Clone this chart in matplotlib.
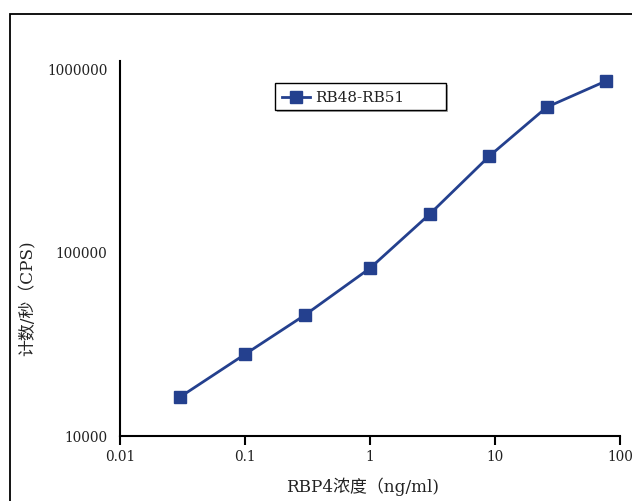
import numpy as np
import matplotlib
matplotlib.use('Agg')
import matplotlib.pyplot as plt
from matplotlib.patches import Rectangle
from matplotlib.lines import Line2D
from matplotlib.ticker import FixedLocator, NullLocator

plt.rcParams['font.family'] = ['DejaVu Serif', 'Noto Sans CJK SC']

# data
conc = [0.03, 0.1, 0.3, 1, 3, 9, 26, 77]
cps = [16150, 27700, 45200, 81500, 160500, 332300, 614600, 851600]
series_name = 'RB48-RB51'
x_ticks = [0.01, 0.1, 1, 10, 100]
x_ticklabels = ['0.01', '0.1', '1', '10', '100']
y_ticks = [10000, 100000, 1000000]
y_ticklabels = ['10000', '100000', '1000000']
x_label = 'RBP4浓度（ng/ml)'
y_label = '计数/秒（CPS)'

line_col = '#24408E'
txt_col = '#222222'
W, H = 632, 502

fig = plt.figure(figsize=(W / 100, H / 100), dpi=100)

def fx(px):
    return px / W

def fy(py):
    return 1 - py / H

# outer chart frame (runs off the right/bottom edge)
fig.patches.append(Rectangle((fx(9.5), -0.2), 1.5, 1.2 - 14.5 / H,
                             transform=fig.transFigure, fill=False,
                             edgecolor='black', linewidth=1.3))

ax = fig.add_axes([fx(120), fy(436.5), (620 - 120) / W, (436.5 - 61.7) / H])
ax.plot(conc, cps, color=line_col, linewidth=2.0, marker='s', markersize=8,
        markerfacecolor=line_col, markeredgecolor=line_col, label=series_name)

ax.set_xscale('log')
ax.set_yscale('log')
ax.set_xlim(0.01, 100)
ax.set_ylim(10000, 1.1e6)

ax.xaxis.set_major_locator(FixedLocator(x_ticks))
ax.xaxis.set_minor_locator(NullLocator())
ax.set_xticklabels(x_ticklabels)
ax.yaxis.set_major_locator(FixedLocator(y_ticks))
ax.yaxis.set_minor_locator(NullLocator())
ax.set_yticklabels(y_ticklabels)

ax.tick_params(axis='x', direction='out', length=6.5, width=1.5, pad=3,
               labelsize=9.8, labelcolor=txt_col)
ax.tick_params(axis='y', length=0, pad=9, labelsize=9.8, labelcolor=txt_col)

for s in ['top', 'right']:
    ax.spines[s].set_visible(False)
for s in ['left', 'bottom']:
    ax.spines[s].set_linewidth(1.5)
    ax.spines[s].set_color('black')

fig.text(fx(363), fy(487), x_label, ha='center', va='center',
         fontsize=12.2, color=txt_col)
fig.text(fx(28), fy(298), y_label, ha='center', va='center',
         rotation=90, fontsize=12.2, color=txt_col)

# legend box drawn by hand to match the wide Excel legend
lx0, ly0, lx1, ly1 = 275, 84, 446, 111
fig.patches.append(Rectangle((fx(lx0 + 1.5), fy(ly1 + 1.5)), (lx1 - lx0) / W, (ly1 - ly0) / H,
                             transform=fig.transFigure, facecolor='#aaaaaa',
                             edgecolor='none', zorder=5))
fig.patches.append(Rectangle((fx(lx0), fy(ly1)), (lx1 - lx0) / W, (ly1 - ly0) / H,
                             transform=fig.transFigure, facecolor='white',
                             edgecolor='black', linewidth=1.0, zorder=6))
fig.lines.append(Line2D([fx(282), fx(310)], [fy(97.5), fy(97.5)], transform=fig.transFigure,
                        color=line_col, linewidth=2.0, zorder=7))
fig.lines.append(Line2D([fx(296)], [fy(97.5)], transform=fig.transFigure, marker='s',
                        markersize=8, color=line_col, zorder=7))
fig.text(fx(315), fy(97.5), series_name, ha='left', va='center', fontsize=11,
         color=txt_col, zorder=8)

fig.savefig('out.png', dpi=100)
